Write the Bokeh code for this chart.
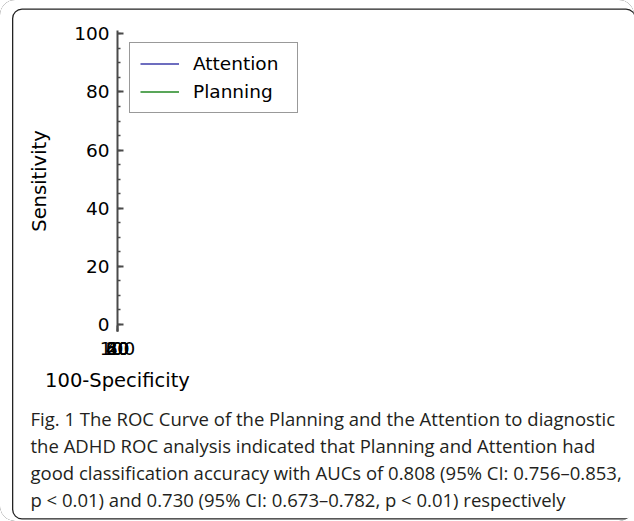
from bokeh.plotting import figure
from bokeh.models import (Title, Legend, LegendItem, SingleIntervalTicker, Range1d)
from bokeh.embed import file_html
from bokeh.resources import INLINE

# ---------------- data ----------------
attention_x = [0, 0.6, 0.6, 1.3, 6.6, 11.4, 14.6, 20.4, 28.0, 33.5, 42.4, 47.2,
               58.7, 75.8, 80.2, 83.6, 89.3, 94.4, 95.3, 97.0, 98.4, 100]
attention_y = [0, 3.8, 20.3, 22.2, 29.5, 35.2, 42.7, 48.4, 60.4, 63.3, 78.2, 81.9,
               87.4, 90.1, 92.9, 93.7, 97.5, 97.5, 99.1, 99.1, 100, 100]
planning_x = [0, 0.3, 1.5, 5.5, 8.9, 15.0, 20.6, 25.7, 33.5, 43.0, 50.9, 61.9,
              68.0, 72.6, 77.9, 81.6, 85.2, 93.0, 100]
planning_y = [0, 16.9, 22.0, 38.1, 45.2, 54.4, 72.5, 76.7, 80.3, 83.3, 88.0, 90.0,
              92.8, 95.4, 96.8, 96.8, 98.6, 100, 100]
chance_x = [0, 100]
chance_y = [0, 100]
series_names = ["Attention", "Planning"]
x_title = "100-Specificity"
y_title = "Sensitivity"
caption_lines = [
    "Fig. 1 The ROC Curve of the Planning and the Attention to diagnostic",
    "the ADHD ROC analysis indicated that Planning and Attention had",
    "good classification accuracy with AUCs of 0.808 (95% CI: 0.756\u20130.853,",
    "p < 0.01) and 0.730 (95% CI: 0.673\u20130.782, p < 0.01) respectively",
]

# ---------------- page geometry (pixels from page top-left) ----------------
W, H = 634, 521
FL, FR, FT, FB = 117, 418, 30, 331          # chart frame edges
X0, X100 = 122.3, 413.7                     # px of x = 0 / 100
Y0, Y100 = 324.0, 33.3                      # px of y = 0 / 100
kx = (X100 - X0) / 100.0
ky = (Y0 - Y100) / 100.0


def dx(px):
    return (px - X0) / kx


def dy(py):
    return (Y0 - py) / ky


AX_FONT = "DejaVu Sans"
CAP_FONT = "Open Sans"

p = figure(width=W, height=H, output_backend="svg", toolbar_location=None,
           x_range=Range1d(dx(FL), dx(FR)), y_range=Range1d(dy(FB), dy(FT)),
           min_border_left=FL, min_border_right=W - FR,
           min_border_top=FT, min_border_bottom=H - FB)
p.title.visible = False
p.outline_line_color = None
p.background_fill_alpha = 0
p.border_fill_alpha = 0

for ax in (p.xaxis[0], p.yaxis[0]):
    ax.ticker = SingleIntervalTicker(interval=20, num_minor_ticks=4)
    ax.axis_line_color = "#4a4a4a"
    ax.axis_line_width = 2
    ax.major_tick_in = 6
    ax.major_tick_out = 0
    ax.minor_tick_in = 3
    ax.minor_tick_out = 0
    ax.major_tick_line_color = "#4a4a4a"
    ax.major_tick_line_width = 2
    ax.minor_tick_line_color = "#4a4a4a"
    ax.minor_tick_line_width = 1.5
    ax.major_label_text_font = AX_FONT
    ax.major_label_text_font_size = "18.5px"
    ax.major_label_text_color = "black"
    ax.axis_label_text_font = AX_FONT
    ax.axis_label_text_font_size = "19.5px"
    ax.axis_label_text_font_style = "normal"
    ax.axis_label_text_color = "black"

p.xaxis.axis_label = x_title
p.yaxis.axis_label = y_title
p.xaxis.major_label_standoff = 10
p.xaxis.axis_label_standoff = 11
p.yaxis.major_label_standoff = 8
p.yaxis.axis_label_standoff = 20

p.xgrid.ticker = p.xaxis[0].ticker
p.ygrid.ticker = p.yaxis[0].ticker
for g in (p.xgrid[0], p.ygrid[0]):
    g.grid_line_color = "#a8a8a8"
    g.grid_line_dash = "1 1"
    g.grid_line_width = 1

p.line(chance_x, chance_y, line_color="#c02020", line_dash="2 2", line_width=1.2)
r_att = p.line(attention_x, attention_y, line_color="#3c3caa", line_width=1.4)
r_plan = p.line(planning_x, planning_y, line_color="#228822", line_width=1.4)

legend = Legend(items=[LegendItem(label=series_names[0], renderers=[r_att]),
                       LegendItem(label=series_names[1], renderers=[r_plan])],
                location="top_left")
legend.padding = 10
legend.spacing = 7
legend.margin = 12
legend.glyph_width = 39
legend.glyph_height = 19
legend.label_height = 19
legend.label_width = 94
legend.label_standoff = 14
legend.border_line_color = "#333333"
legend.border_line_width = 1.5
legend.background_fill_alpha = 1
legend.label_text_font = AX_FONT
legend.label_text_font_size = "18.5px"
legend.label_text_color = "black"
p.add_layout(legend, "right")

# ---------------- caption: stacked titles in the bottom panel ----------------
CAP_SIZE = "18.5px"
CAP_COLOR = "#231f20"
# small spacer between the x axis and the caption
p.add_layout(Title(text=" ", text_font_size="1px", standoff=6), "below")
for line in caption_lines:
    p.add_layout(Title(text=line, align="left", offset=30 - FL, standoff=0,
                       text_font=CAP_FONT, text_font_size=CAP_SIZE,
                       text_font_style="normal", text_color=CAP_COLOR), "below")

# rounded panel border: two inset shadows on the figure element
# (white outside the outer edge, dark between the outer and inner edge)
p.styles = {
    "box-shadow": "inset 7px 3.5px 0 5px white, inset 7px 3.5px 0 6.3px #222222",
    "border-radius": "15px",
}

open("out.html", "w").write(file_html(p, INLINE))
